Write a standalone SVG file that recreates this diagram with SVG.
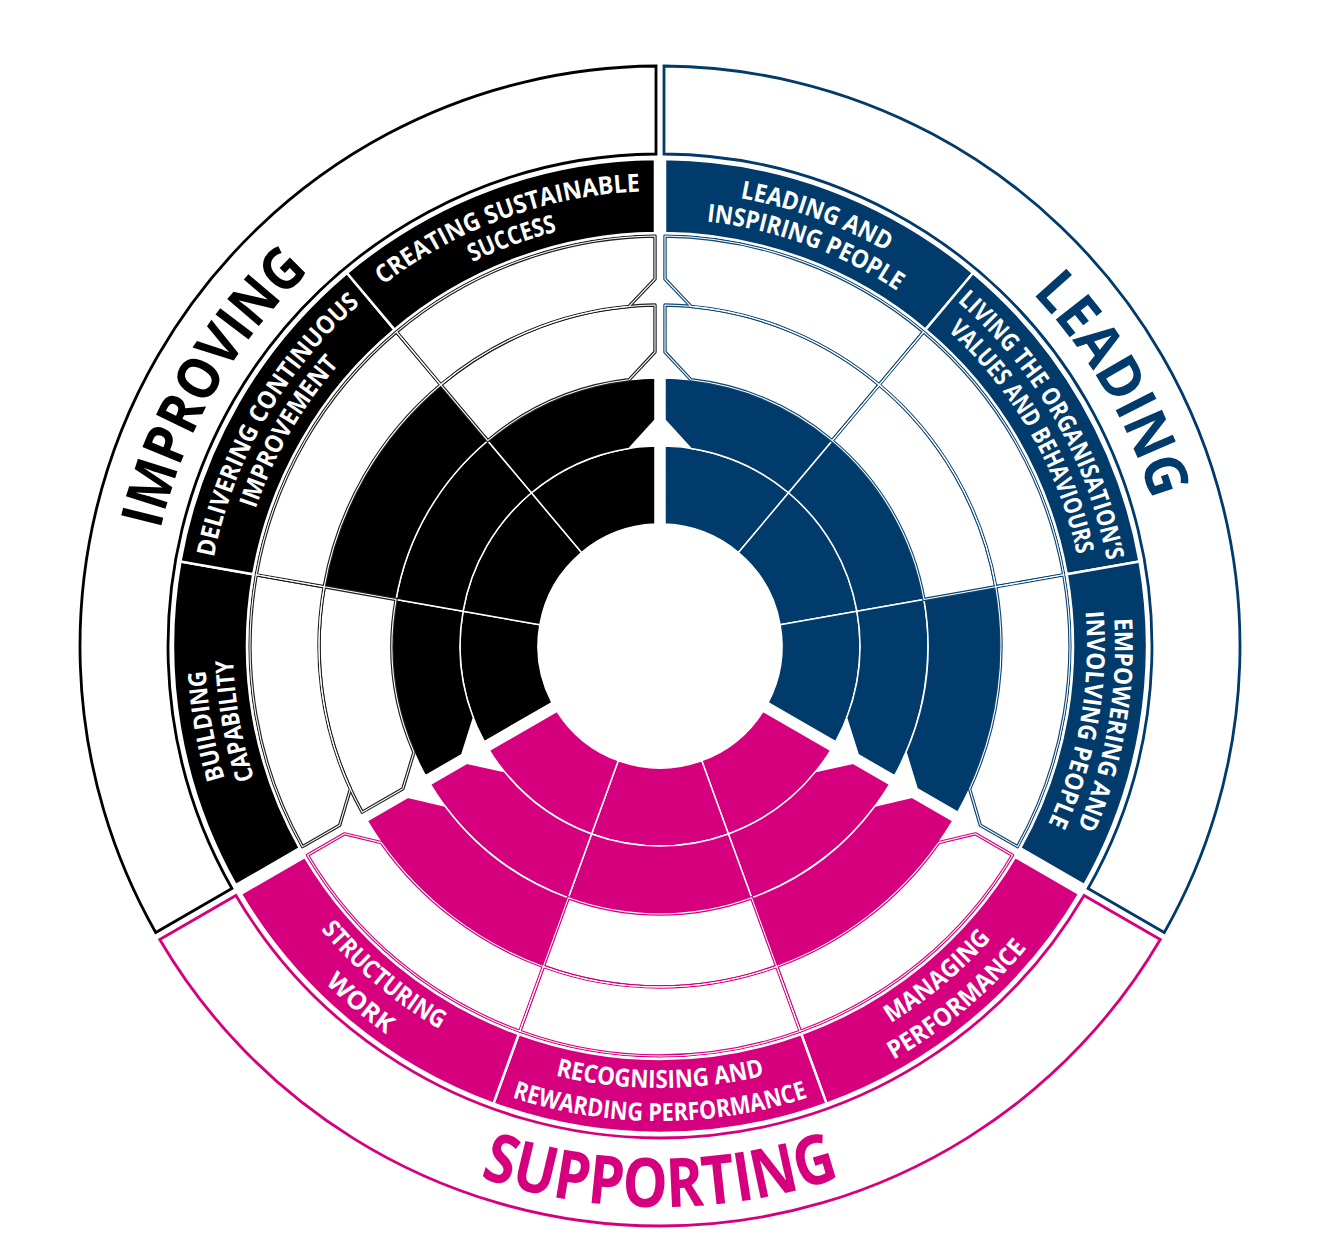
<svg xmlns="http://www.w3.org/2000/svg" width="1340" height="1258" viewBox="0 0 1340 1258">
<style>
.imp{--c:#000000;--l:#1e1e1e}
.lead{--c:#003b6b;--l:#0d4674}
.sup{--c:#d6007e;--l:#d6007e}
.ob{fill:#fff;stroke:var(--c);stroke-width:2.8}
.f{fill:var(--c);stroke:#fff;stroke-width:1.5;stroke-linejoin:round}
.w{fill:#fff;stroke:var(--l);stroke-width:3.4;stroke-linejoin:round}
.wl{fill:none;stroke:#fff;stroke-width:1.1;stroke-linejoin:round}
.bd{fill:var(--c);stroke:#fff;stroke-width:2.5}
.lbl{font-family:"Open Sans","Noto Sans","Liberation Sans",sans-serif;font-weight:700;font-size:25px;fill:#fff;text-anchor:middle}
.ttl{font-family:"Open Sans","Noto Sans","Liberation Sans",sans-serif;font-weight:700;font-size:58px;fill:var(--c);text-anchor:middle}
</style>
<defs>
<path id="O" d="M-500.28 -293.46A580 580 0 0 1 500.28 -293.46L424.07 -249.45A492 492 0 0 0 -424.07 -249.45Z"/>
<path id="NL" d="M-419.23 -247.82A487 487 0 0 1 -166.56 -457.63L-141.25 -388.09A413 413 0 0 0 -355.14 -210.82Z"/>
<path id="NM" d="M-166.56 -457.63A487 487 0 0 1 166.56 -457.63L141.25 -388.09A413 413 0 0 0 -141.25 -388.09Z"/>
<path id="NR" d="M166.56 -457.63A487 487 0 0 1 419.23 -247.82L355.14 -210.82A413 413 0 0 0 141.25 -388.09Z"/>
<path id="AL" d="M-352.54 -209.32A410 410 0 0 1 -140.23 -385.27L-116.63 -320.43A341 341 0 0 0 -278.59 -196.65L-315.33 -187.83Z"/>
<path id="AM" d="M-140.23 -385.27A410 410 0 0 1 140.23 -385.27L116.63 -320.43A341 341 0 0 0 -116.63 -320.43Z"/>
<path id="AR" d="M140.23 -385.27A410 410 0 0 1 352.54 -209.32L315.33 -187.83L278.59 -196.65A341 341 0 0 0 116.63 -320.43Z"/>
<path id="BL" d="M-292.78 -174.81A341 341 0 0 1 -116.63 -320.43L-91.66 -251.84A268 268 0 0 0 -215.04 -159.95L-252.11 -151.33Z"/>
<path id="BM" d="M-116.63 -320.43A341 341 0 0 1 116.63 -320.43L91.66 -251.84A268 268 0 0 0 -91.66 -251.84Z"/>
<path id="BR" d="M116.63 -320.43A341 341 0 0 1 292.78 -174.81L252.11 -151.33L215.04 -159.95A268 268 0 0 0 91.66 -251.84Z"/>
<path id="CL" d="M-229.55 -138.31A268 268 0 0 1 -91.66 -251.84L-68.4 -187.94A200 200 0 0 0 -155.61 -125.64L-193.22 -117.33Z"/>
<path id="CM" d="M-91.66 -251.84A268 268 0 0 1 91.66 -251.84L68.4 -187.94A200 200 0 0 0 -68.4 -187.94Z"/>
<path id="CR" d="M91.66 -251.84A268 268 0 0 1 229.55 -138.31L193.22 -117.33L155.61 -125.64A200 200 0 0 0 68.4 -187.94Z"/>
<path id="DL" d="M-170.65 -104.3A200 200 0 0 1 -68.4 -187.94L-41.73 -114.64A122 122 0 0 0 -103.07 -65.28Z"/>
<path id="DM" d="M-68.4 -187.94A200 200 0 0 1 68.4 -187.94L41.73 -114.64A122 122 0 0 0 -41.73 -114.64Z"/>
<path id="DR" d="M68.4 -187.94A200 200 0 0 1 170.65 -104.3L103.07 -65.28A122 122 0 0 0 41.73 -114.64Z"/>
<path id="t1L" d="M-427.56 -155.62A455 455 0 0 1 -79.01 -448.09"/>
<path id="t1M" d="M-227.5 -394.04A455 455 0 0 1 227.5 -394.04"/>
<path id="t1R" d="M79.01 -448.09A455 455 0 0 1 427.56 -155.62"/>
<path id="t2L" d="M-401.25 -146.04A427 427 0 0 1 -74.15 -420.51"/>
<path id="t2M" d="M-213.5 -369.79A427 427 0 0 1 213.5 -369.79"/>
<path id="t2R" d="M74.15 -420.51A427 427 0 0 1 401.25 -146.04"/>
<path id="s1L" d="M-76.75 -435.29A442 442 0 0 0 -415.34 -151.17"/>
<path id="s1M" d="M221 -382.78A442 442 0 0 0 -221 -382.78"/>
<path id="s1R" d="M415.34 -151.17A442 442 0 0 0 76.75 -435.29"/>
<path id="s2L" d="M-82.48 -467.78A475 475 0 0 0 -446.35 -162.46"/>
<path id="s2M" d="M237.5 -411.36A475 475 0 0 0 -237.5 -411.36"/>
<path id="s2R" d="M446.35 -162.46A475 475 0 0 0 82.48 -467.78"/>
<path id="tt" d="M-482.06 -175.46A513 513 0 0 1 482.06 -175.46"/>
<path id="ts" d="M527.17 -191.87A561 561 0 0 0 -527.17 -191.87"/>
</defs>
<rect width="1340" height="1258" fill="#fff"/>

<g id="improving" class="imp" transform="translate(660 646) rotate(300)">
  <use href="#O" class="ob"/>
  <g id="improving-levels">
    <use href="#DL" class="f"/><use href="#CL" class="f"/>
    <use href="#DM" class="f"/><use href="#CM" class="f"/><use href="#BM" class="f"/>
    <use href="#DR" class="f"/><use href="#CR" class="f"/>
    <use href="#BL" class="w"/><use href="#AL" class="w"/><use href="#AM" class="w"/><use href="#BR" class="w"/><use href="#AR" class="w"/>
    <use href="#BL" class="wl"/><use href="#AL" class="wl"/><use href="#AM" class="wl"/><use href="#BR" class="wl"/><use href="#AR" class="wl"/>
  </g>
  <g id="building-capability">
    <use href="#NL" class="bd"/>
    <text class="lbl"><textPath href="#t1L" startOffset="50%" textLength="110" lengthAdjust="spacingAndGlyphs">BUILDING</textPath></text>
    <text class="lbl"><textPath href="#t2L" startOffset="50%" textLength="121" lengthAdjust="spacingAndGlyphs">CAPABILITY</textPath></text>
  </g>
  <g id="delivering-continuous-improvement">
    <use href="#NM" class="bd"/>
    <text class="lbl"><textPath href="#t1M" startOffset="50%" textLength="298" lengthAdjust="spacingAndGlyphs">DELIVERING CONTINUOUS</textPath></text>
    <text class="lbl"><textPath href="#t2M" startOffset="50%" textLength="168" lengthAdjust="spacingAndGlyphs">IMPROVEMENT</textPath></text>
  </g>
  <g id="creating-sustainable-success">
    <use href="#NR" class="bd"/>
    <text class="lbl"><textPath href="#t1R" startOffset="50%" textLength="278" lengthAdjust="spacingAndGlyphs">CREATING SUSTAINABLE</textPath></text>
    <text class="lbl"><textPath href="#t2R" startOffset="50%" textLength="90" lengthAdjust="spacingAndGlyphs">SUCCESS</textPath></text>
  </g>
  <text class="ttl"><textPath href="#tt" startOffset="50%" textLength="303" lengthAdjust="spacingAndGlyphs">IMPROVING</textPath></text>
</g>

<g id="leading" class="lead" transform="translate(660 646) rotate(60)">
  <use href="#O" class="ob"/>
  <g id="leading-levels">
    <use href="#DL" class="f"/><use href="#CL" class="f"/>
    <use href="#DM" class="f"/><use href="#CM" class="f"/>
    <use href="#DR" class="f"/><use href="#CR" class="f"/><use href="#BR" class="f"/>
    <use href="#BL" class="w"/><use href="#AL" class="w"/><use href="#BM" class="w"/><use href="#AM" class="w"/><use href="#AR" class="w"/>
    <use href="#BL" class="wl"/><use href="#AL" class="wl"/><use href="#BM" class="wl"/><use href="#AM" class="wl"/><use href="#AR" class="wl"/>
  </g>
  <g id="leading-and-inspiring-people">
    <use href="#NL" class="bd"/>
    <text class="lbl"><textPath href="#t1L" startOffset="50%" textLength="157" lengthAdjust="spacingAndGlyphs">LEADING AND</textPath></text>
    <text class="lbl"><textPath href="#t2L" startOffset="50%" textLength="205" lengthAdjust="spacingAndGlyphs">INSPIRING PEOPLE</textPath></text>
  </g>
  <g id="living-the-organisations-values">
    <use href="#NM" class="bd"/>
    <text class="lbl"><textPath href="#t1M" startOffset="50%" textLength="305" lengthAdjust="spacingAndGlyphs">LIVING THE ORGANISATION’S</textPath></text>
    <text class="lbl"><textPath href="#t2M" startOffset="50%" textLength="263" lengthAdjust="spacingAndGlyphs">VALUES AND BEHAVIOURS</textPath></text>
  </g>
  <g id="empowering-and-involving-people">
    <use href="#NR" class="bd"/>
    <text class="lbl"><textPath href="#t1R" startOffset="50%" textLength="214" lengthAdjust="spacingAndGlyphs">EMPOWERING AND</textPath></text>
    <text class="lbl"><textPath href="#t2R" startOffset="50%" textLength="218" lengthAdjust="spacingAndGlyphs">INVOLVING PEOPLE</textPath></text>
  </g>
  <text class="ttl"><textPath href="#tt" startOffset="50%" textLength="242" lengthAdjust="spacingAndGlyphs">LEADING</textPath></text>
</g>

<g id="supporting" class="sup" transform="translate(660 646) rotate(180)">
  <use href="#O" class="ob"/>
  <g id="supporting-levels">
    <use href="#DL" class="f"/><use href="#CL" class="f"/><use href="#BL" class="f"/>
    <use href="#DM" class="f"/><use href="#CM" class="f"/>
    <use href="#DR" class="f"/><use href="#CR" class="f"/><use href="#BR" class="f"/>
    <use href="#AL" class="w"/><use href="#BM" class="w"/><use href="#AM" class="w"/><use href="#AR" class="w"/>
    <use href="#AL" class="wl"/><use href="#BM" class="wl"/><use href="#AM" class="wl"/><use href="#AR" class="wl"/>
  </g>
  <g id="managing-performance">
    <use href="#NL" class="bd"/>
    <text class="lbl"><textPath href="#s1L" startOffset="50%" textLength="132" lengthAdjust="spacingAndGlyphs">MANAGING</textPath></text>
    <text class="lbl"><textPath href="#s2L" startOffset="50%" textLength="175" lengthAdjust="spacingAndGlyphs">PERFORMANCE</textPath></text>
  </g>
  <g id="recognising-and-rewarding-performance">
    <use href="#NM" class="bd"/>
    <text class="lbl"><textPath href="#s1M" startOffset="50%" textLength="211" lengthAdjust="spacingAndGlyphs">RECOGNISING AND</textPath></text>
    <text class="lbl"><textPath href="#s2M" startOffset="50%" textLength="301" lengthAdjust="spacingAndGlyphs">REWARDING PERFORMANCE</textPath></text>
  </g>
  <g id="structuring-work">
    <use href="#NR" class="bd"/>
    <text class="lbl"><textPath href="#s1R" startOffset="50%" textLength="156" lengthAdjust="spacingAndGlyphs">STRUCTURING</textPath></text>
    <text class="lbl"><textPath href="#s2R" startOffset="50%" textLength="80" lengthAdjust="spacingAndGlyphs">WORK</textPath></text>
  </g>
  <text class="ttl" style="font-size:68px"><textPath href="#ts" startOffset="50%" textLength="367" lengthAdjust="spacingAndGlyphs">SUPPORTING</textPath></text>
</g>
</svg>
